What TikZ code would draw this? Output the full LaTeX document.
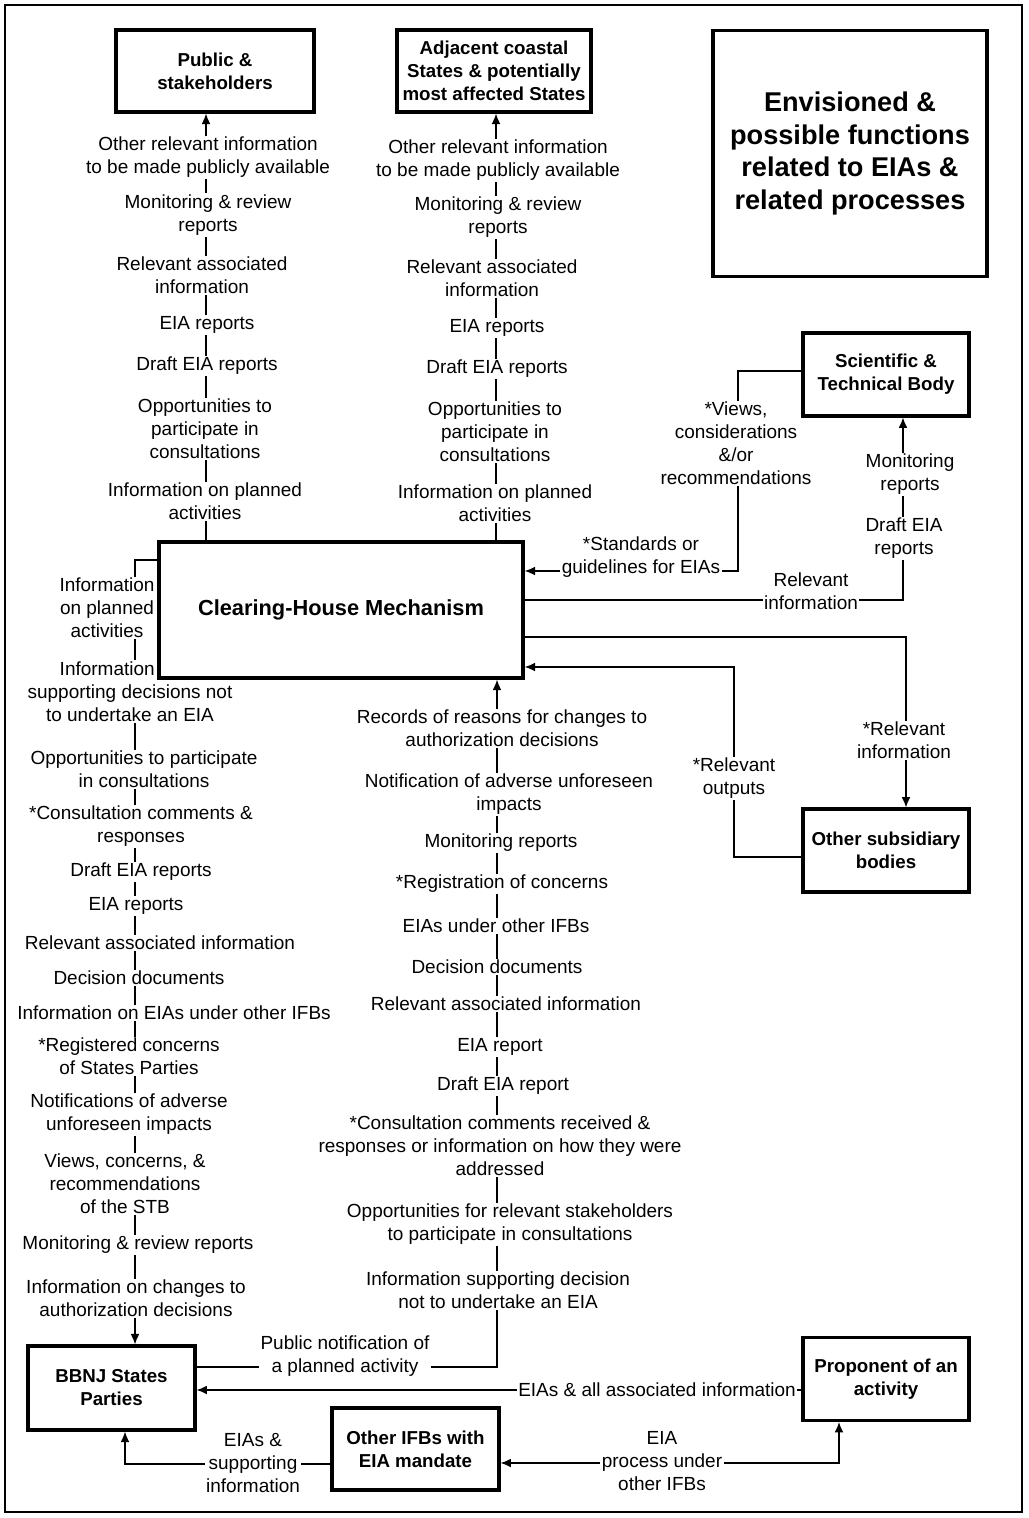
\documentclass[tikz,border=0pt]{standalone}
\usepackage{fontspec}
\setmainfont{Liberation Sans}
\usetikzlibrary{arrows.meta}
\pgfdeclarelayer{front}
\pgfsetlayers{main,front}
\begin{document}
\begin{tikzpicture}[x=0.025cm,y=-0.025cm,
  box/.style={draw,line width=2.3pt,align=center,inner sep=2pt,font=\bfseries\fontsize{13.3}{16.3}\selectfont},
  lbl/.style={fill=white,align=center,inner sep=1pt,font=\fontsize{13.5}{16.3}\selectfont},
  link/.style={line width=0.95pt},
  tip/.style={-{Latex[length=2.6mm,width=2.2mm]}}]
\path[use as bounding box] (0,0) rectangle (1028,1518);
\draw[line width=1.4pt] (5,5) rectangle (1022,1512);
\begin{pgfonlayer}{front}
\node[box,minimum width=4.95cm,minimum height=2.05cm] (pub) at (215,71) {Public \&\\stakeholders};
\node[box,minimum width=4.85cm,minimum height=2.05cm] (adj) at (494,71) {Adjacent coastal\\States \& potentially\\most affected States};
\node[box,minimum width=6.85cm,minimum height=6.15cm,font=\bfseries\fontsize{19.3}{23.4}\selectfont] (ttl) at (850,153.5) {Envisioned \&\\possible functions\\related to EIAs \&\\related processes};
\node[box,minimum width=4.15cm,minimum height=2.07cm] (stb) at (886,374.5) {Scientific \&\\Technical Body};
\node[box,minimum width=9.1cm,minimum height=3.4cm,font=\bfseries\fontsize{15.5}{18}\selectfont] (chm) at (341,610) {Clearing-House Mechanism};
\node[box,minimum width=4.15cm,minimum height=2.07cm] (osb) at (886,850.5) {Other subsidiary\\bodies};
\node[box,minimum width=4.17cm,minimum height=2.1cm] (bbnj) at (111.5,1388) {BBNJ States\\Parties};
\node[box,minimum width=4.17cm,minimum height=2.05cm] (ifb) at (415.5,1449) {Other IFBs with\\EIA mandate};
\node[box,minimum width=4.15cm,minimum height=2.07cm] (prop) at (886,1379) {Proponent of an\\activity};
\end{pgfonlayer}
\coordinate (xp) at (206,0);
\coordinate (xa) at (496,0);
\coordinate (lb) at (135,560);
\coordinate (mb) at (497,1367);
\coordinate (ya) at (0,1390);
\coordinate (pb) at (839,1463);
\coordinate (sb) at (125,1464);
\coordinate (vt) at (738,371);
\coordinate (vb) at (738,571);
\coordinate (rb) at (903,600);
\coordinate (ob) at (906,637);
\coordinate (ot) at (734,857);
\coordinate (oc) at (734,667);
\draw[link,tip] (chm.north -| xp) -- (pub.south -| xp);
\draw[link,tip] (chm.north -| xa) -- (adj.south -| xa);
\draw[link,tip] (chm.west |- lb) -- (lb) -- (bbnj.north -| lb);
\draw[link,tip] (bbnj.east |- mb) -- (mb) -- (chm.south -| mb);
\draw[link,tip] (prop.west |- ya) -- (bbnj.east |- ya);
\draw[link,{Latex[length=2.6mm,width=2.2mm]}-{Latex[length=2.6mm,width=2.2mm]}] (ifb.east |- pb) -- (pb) -- (prop.south -| pb);
\draw[link,tip] (ifb.west |- sb) -- (sb) -- (bbnj.south -| sb);
\draw[link,tip] (stb.west |- vt) -- (vt) -- (vb) -- (chm.east |- vb);
\draw[link,tip] (chm.east |- rb) -- (rb) -- (stb.south -| rb);
\draw[link,tip] (chm.east |- ob) -- (ob) -- (osb.north -| ob);
\draw[link,tip] (osb.west |- ot) -- (ot) -- (oc) -- (chm.east |- oc);
\node[lbl] (p1) at (208,157.5) {Other relevant information\\to be made publicly available};
\node[lbl] (p2) at (208,215) {Monitoring \& review\\reports};
\node[lbl] (p3) at (202,275.5) {Relevant associated\\information};
\node[lbl] (p4) at (207,325) {EIA reports};
\node[lbl] (p5) at (207,366) {Draft EIA reports};
\node[lbl] (p6) at (205,429) {Opportunities to\\participate in\\consultations};
\node[lbl] (p7) at (205,501.5) {Information on planned\\activities};
\node[lbl] (a1) at (498,160.5) {Other relevant information\\to be made publicly available};
\node[lbl] (a2) at (498,217.5) {Monitoring \& review\\reports};
\node[lbl] (a3) at (492,278.5) {Relevant associated\\information};
\node[lbl] (a4) at (497,328) {EIA reports};
\node[lbl] (a5) at (497,369) {Draft EIA reports};
\node[lbl] (a6) at (495,432) {Opportunities to\\participate in\\consultations};
\node[lbl] (a7) at (495,503.5) {Information on planned\\activities};
\node[lbl] (l1) at (107,608) {Information\\on planned\\activities};
\node[lbl] (l2) at (130,691.5) {Information\makebox[2.4em]{}\\supporting decisions not\\to undertake an EIA};
\node[lbl] (l3) at (144,769.5) {Opportunities to participate\\in consultations};
\node[lbl] (l4) at (141,826.5) {*Consultation comments \&\\responses};
\node[lbl] (l5) at (141,872) {Draft EIA reports};
\node[lbl] (l6) at (136,906) {EIA reports};
\node[lbl] (l7) at (160,943) {Relevant associated information};
\node[lbl] (l8) at (139,978) {Decision documents};
\node[lbl] (l9) at (174,1013) {Information on EIAs under other IFBs};
\node[lbl] (l10) at (129,1056.5) {*Registered concerns\\of States Parties};
\node[lbl] (l11) at (129,1114.5) {Notifications of adverse\\unforeseen impacts};
\node[lbl] (l12) at (125,1184) {Views, concerns, \&\\recommendations\\of the STB};
\node[lbl] (l13) at (138,1245) {Monitoring \& review reports};
\node[lbl] (l14) at (136,1298.5) {Information on changes to\\authorization decisions};
\node[lbl] (m1) at (502,728.5) {Records of reasons for changes to\\authorization decisions};
\node[lbl] (m2) at (509,794.5) {Notification of adverse unforeseen\\impacts};
\node[lbl] (m3) at (501,843) {Monitoring reports};
\node[lbl] (m4) at (502,884) {*Registration of concerns};
\node[lbl] (m5) at (496,926) {EIAs under other IFBs};
\node[lbl] (m6) at (497,967) {Decision documents};
\node[lbl] (m7) at (506,1004) {Relevant associated information};
\node[lbl] (m8) at (500,1047) {EIA report};
\node[lbl] (m9) at (503,1086) {Draft EIA report};
\node[lbl] (m10) at (500,1146) {*Consultation comments received \&\\responses or information on how they were\\addressed};
\node[lbl] (m11) at (510,1224.5) {Opportunities for relevant stakeholders\\to participate in consultations};
\node[lbl] (m12) at (498,1290.5) {Information supporting decision\\not to undertake an EIA};
\node[lbl] (pn) at (345,1356) {Public notification of\\a planned activity};
\node[lbl] (ea) at (657,1390) {EIAs \& all associated information};
\node[lbl] (ep) at (662,1461) {EIA\\process under\\other IFBs};
\node[lbl] (es) at (253,1463) {EIAs \&\\supporting\\information};
\node[lbl] (vw) at (736,443.5) {*Views,\\considerations\\\&/or\\recommendations};
\node[lbl] (sg) at (641,557.5) {*Standards or\\guidelines for EIAs};
\node[lbl] (ri) at (811,591.5) {Relevant\\information};
\node[lbl] (mr) at (910,474.5) {Monitoring\\reports};
\node[lbl] (dr) at (904,538.5) {Draft EIA\\reports};
\node[lbl] (rn) at (904,740.5) {*Relevant\\information};
\node[lbl] (ro) at (734,778.5) {*Relevant\\outputs};
\end{tikzpicture}
\end{document}
